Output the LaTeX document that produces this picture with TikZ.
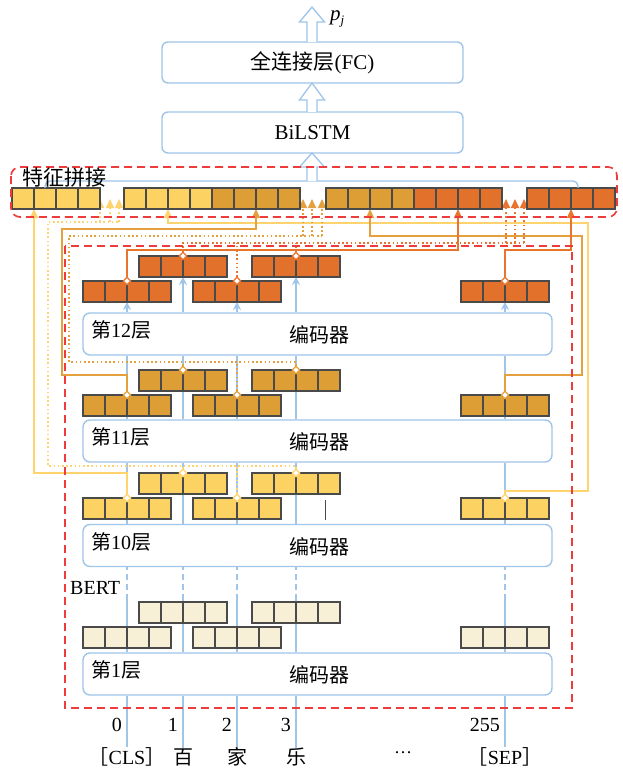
\documentclass[tikz,border=0pt]{standalone}
\usepackage{fontspec}
\setmainfont{Liberation Serif}
\newfontfamily\cjk{Noto Sans CJK SC}
\usetikzlibrary{arrows.meta,shapes.geometric}
\definecolor{cY}{HTML}{FCD262}
\definecolor{cG}{HTML}{DD9E36}
\definecolor{cO}{HTML}{E2712B}
\definecolor{cC}{HTML}{F7EFD6}
\definecolor{lY}{HTML}{FFD36E}
\definecolor{lG}{HTML}{E3A03C}
\definecolor{lO}{HTML}{E8742E}
\definecolor{bl}{HTML}{9FC5E8}
\definecolor{rd}{HTML}{EE3B3B}
\definecolor{cb}{HTML}{4A4A4A}
\pgfdeclarelayer{bg}\pgfdeclarelayer{mid}\pgfsetlayers{bg,mid,main}
\newcommand\blk[4]{\foreach \clr [count=\i from 0] in {#4} {\node[cell,fill=\clr] (#1-\i) at ({#2+22*\i},#3) {};}}
\newcommand\lay[3]{%
 \blk{b#1-1}{139}{#2}{#3,#3,#3,#3}
 \blk{b#1-3}{252}{#2}{#3,#3,#3,#3}
 \blk{b#1-0}{83}{#2+25}{#3,#3,#3,#3}
 \blk{b#1-2}{193}{#2+25}{#3,#3,#3,#3}
 \blk{b#1-s}{461}{#2+25}{#3,#3,#3,#3}}
\newcommand\harrow[4]{\filldraw[draw=bl,fill=white,line width=1.3pt] ({#1-5},#2) -- ({#1-5},#3) -- ({#1-12.5},#3) -- (#1,#4) -- ({#1+12.5},#3) -- ({#1+5},#3) -- ({#1+5},#2);}
\begin{document}
\begin{tikzpicture}[x=1pt,y=-1pt,
 cell/.style={draw=cb,line width=1.2pt,minimum width=22pt,minimum height=21pt,inner sep=0pt,outer sep=0pt,anchor=north west},
 enc/.style={draw=bl,line width=1.4pt,rounded corners=7pt,minimum width=469pt,minimum height=42pt,inner sep=0pt},
 topbox/.style={draw=bl,line width=1.4pt,rounded corners=6pt,minimum width=301pt,minimum height=41pt,inner sep=0pt,font=\fontsize{21}{24}\selectfont},
 txt/.style={font=\fontsize{20}{24}\selectfont,inner sep=0pt},
 tap/.style={diamond,draw,fill=white,line width=1.3pt,inner sep=0pt,minimum width=8pt,minimum height=8pt},
 link/.style={line width=1.5pt},
 dotl/.style={line width=1.6pt,dash pattern=on 1.6pt off 2.6pt},
 tipA/.style={-{Triangle[width=8pt,length=9pt]}},
 bline/.style={draw=bl,line width=1.4pt},
 redbox/.style={draw=rd,line width=1.7pt,dash pattern=on 8pt off 5pt}]
\useasboundingbox (0,0) rectangle (622,770);
% top boxes
\node[topbox] (fc) at (312.5,62.5) {{\cjk 全连接层}(FC)};
\node[topbox] (bi) at (312.5,132.5) {BiLSTM};
\node[font=\fontsize{21}{24}\selectfont,inner sep=0pt,anchor=west] (pj) at (330,19) {\itshape p\raisebox{-0.35ex}{\fontsize{13}{14}\selectfont j}};
% concatenation row
\blk{cat1}{12}{188}{cY,cY,cY,cY}
\blk{cat2}{124}{188}{cY,cY,cY,cY,cG,cG,cG,cG}
\blk{cat3}{326}{188}{cG,cG,cG,cG,cO,cO,cO,cO}
\blk{cat4}{527}{188}{cO,cO,cO,cO}
\coordinate (bR) at (578,188);
\draw[bline,rounded corners=5pt] (cat1-1.north) |- (bR |- 0,181) -- (bR);
\harrow{312}{42}{22}{7}
\harrow{312}{112}{100}{83}
\harrow{312}{181}{167}{153}
\draw[redbox,rounded corners=9pt] (11,167) rectangle (617,217);
\node[txt,anchor=west,font=\fontsize{21}{24}\selectfont] (tz) at (22,178) {\cjk 特征拼接};
% BERT
\draw[redbox] (65,246) rectangle (572,708);
\node[txt,anchor=west] (bert) at (70,588) {BERT};
% encoders
\node[enc] (e12) at (317.5,334) {};
\node[enc] (e11) at (317.5,441) {};
\node[enc] (e10) at (317.5,545.5) {};
\node[enc] (e1) at (317.5,674) {};
\node[txt,anchor=west] at (91,330) {{\cjk 第}12{\cjk 层}};
\node[txt,anchor=west] at (91,437) {{\cjk 第}11{\cjk 层}};
\node[txt,anchor=west] at (91,542) {{\cjk 第}10{\cjk 层}};
\node[txt,anchor=west] at (91,670) {{\cjk 第}1{\cjk 层}};
\foreach \yy in {335,442,547,675} \node[txt] at (319,\yy) {\cjk 编码器};
% blocks
\lay{12}{256}{cO}
\lay{11}{370}{cG}
\lay{10}{473}{cY}
\lay{1}{602}{cC}
\draw[cb,line width=1pt] (325,500) -- (325,520);
% tokens and indices
\node[txt] (tk0) at (127,757) {{\cjk ［}CLS{\cjk ］}};
\node[txt] (tk1) at (183,757) {\cjk 百};
\node[txt] (tk2) at (237,757) {\cjk 家};
\node[txt] (tk3) at (296,757) {\cjk 乐};
\node[inner sep=0pt,font=\fontsize{18}{20}\selectfont] (tkd) at (403,753) {…};
\node[txt] (tks) at (505,757) {{\cjk ［}SEP{\cjk ］}};
\node[txt,anchor=east] (n0) at (122,725) {0};
\node[txt,anchor=east] (n1) at (178,725) {1};
\node[txt,anchor=east] (n2) at (232,725) {2};
\node[txt,anchor=east] (n3) at (291,725) {3};
\node[txt,anchor=east] (ns) at (500,725) {255};
% blue token lines
\coordinate (yd) at (0,600);
\begin{pgfonlayer}{bg}
\foreach \k in {0,1,2,3,s} {
 \draw[bline] (tk\k.north) -- (tk\k.north |- e1.south);
 \draw[bline] (e1.north -| tk\k) -- (tk\k |- yd);
 \draw[bline,dash pattern=on 6pt off 4pt] (tk\k |- yd) -- (e10.south -| tk\k);
 \draw[bline] (e10.north -| tk\k) -- (e11.south -| tk\k);
 \draw[bline] (e11.north -| tk\k) -- (e12.south -| tk\k);
 \draw[bline,-{Stealth[length=8pt,width=8pt]}] (e12.north -| tk\k) -- (b12-\k-1.south east);
}
\end{pgfonlayer}
% taps
\foreach \k in {0,1,2,3,s} {
 \node[tap,draw=lO] (t12-\k) at (b12-\k-1.north east) {};
 \node[tap,draw=lG] (t11-\k) at (b11-\k-1.north east) {};
 \node[tap,draw=lY] (t10-\k) at (b10-\k-1.north east) {};
}
% levels
\coordinate (hY1) at (0,473); \coordinate (hY2) at (0,491); \coordinate (hY3) at (0,223); \coordinate (vY) at (588,0);
\coordinate (hG1) at (0,375); \coordinate (hG2) at (0,229); \coordinate (hG3) at (0,236);
\coordinate (vG1) at (62,0); \coordinate (vG2) at (582,0);
\coordinate (hO1) at (0,250);
\coordinate (hYd1) at (0,466); \coordinate (hYd2) at (0,222); \coordinate (vYd) at (48,0);
\coordinate (hGd1) at (0,362); \coordinate (hGd2) at (0,236); \coordinate (vGd) at (69,0);
\coordinate (hOd) at (0,243);
\coordinate (aY1) at (100,199); \coordinate (aY2) at (110,199); \coordinate (aY3) at (119,199);
\coordinate (aG1) at (303,199); \coordinate (aG2) at (312,199); \coordinate (aG3) at (322,199);
\coordinate (aO1) at (506,199); \coordinate (aO2) at (515,199); \coordinate (aO3) at (524,199);
\begin{pgfonlayer}{mid}
% solid feeds
\draw[link,draw=lY,tipA] (t10-0.center) -- (t10-0.center |- hY1) -| (cat1-0.south east);
\draw[link,draw=lY,tipA] (t10-s.center) -- (t10-s.center |- hY2) -| (vY |- hY3) -| (cat2-1.south east);
\draw[link,draw=lG,tipA] (t11-0.center) -- (t11-0.center |- hG1) -| (vG1 |- hG2) -| (cat2-5.south east);
\draw[link,draw=lG,tipA] (t11-s.center) -- (t11-s.center |- hG1) -| (vG2 |- hG3) -| (cat3-1.south east);
\draw[link,draw=lO,tipA] (t12-0.center) -- (t12-0.center |- hO1) -| (cat3-5.south east);
\draw[link,draw=lO,tipA] (t12-s.center) -- (t12-s.center |- hO1) -| (cat4-1.south east);
% dotted feeds
\draw[dotl,draw=lY] (t10-1.center) -- (t10-1.center |- hYd1);
\draw[dotl,draw=lY] (t10-2.center) -- (t10-2.center |- hYd1);
\draw[dotl,draw=lY] (t10-3.center) -- (t10-3.center |- hYd1) -| (vYd |- hYd2) -- (aY3 |- hYd2);
\foreach \a in {aY1,aY2,aY3} \draw[dotl,draw=lY,tipA] (\a |- hYd2) -- (\a);
\draw[dotl,draw=lG] (t11-1.center) -- (t11-1.center |- hGd1);
\draw[dotl,draw=lG] (t11-2.center) -- (t11-2.center |- hGd1);
\draw[dotl,draw=lG] (t11-3.center) -- (t11-3.center |- hGd1) -| (vGd |- hGd2) -- (aG3 |- hGd2);
\foreach \a in {aG1,aG2,aG3} \draw[dotl,draw=lG,tipA] (\a |- hGd2) -- (\a);
\draw[dotl,draw=lO] (t12-1.center) |- (aO3 |- hOd);
\draw[dotl,draw=lO] (t12-2.center) -- (t12-2.center |- hOd);
\draw[dotl,draw=lO] (t12-3.center) -- (t12-3.center |- hOd);
\foreach \a in {aO1,aO2,aO3} \draw[dotl,draw=lO,tipA] (\a |- hOd) -- (\a);
\end{pgfonlayer}
\end{tikzpicture}
\end{document}
